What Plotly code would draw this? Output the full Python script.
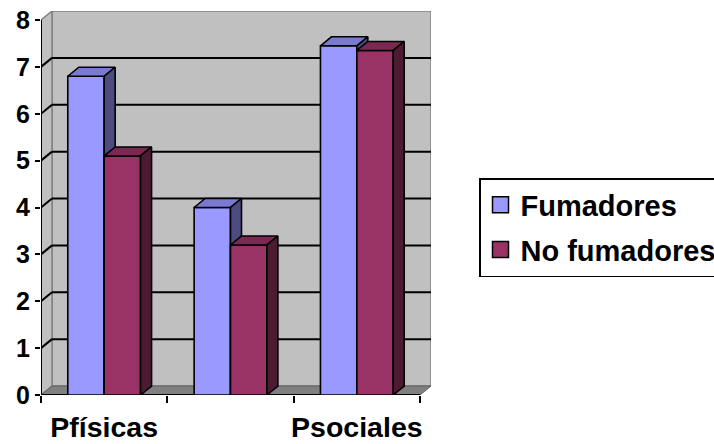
import plotly.graph_objects as go

# ---------------- data ----------------
categories = ["Pfísicas", "Psíquicas", "Psociales"]
tick_labels = ["Pfísicas", "", "Psociales"]
series_names = ["Fumadores", "No fumadores"]
fumadores = [6.8, 4.0, 7.45]
no_fumadores = [5.1, 3.2, 7.35]
y_ticks = [0, 1, 2, 3, 4, 5, 6, 7, 8]

# ---------------- styling / geometry ----------------
W, H = 714, 444
ML, MR, MT, MB = 41, 283, 11, 49
FONT = "Liberation Sans, Arial, Helvetica, sans-serif"

n = len(categories)
y_max = y_ticks[-1]
front_w_px = 379.0            # width of the front plane
front_h_px = 375.0            # height of the front plane (0..8)
plot_w = W - ML - MR
plot_h = H - MT - MB
px_x = front_w_px / n
px_y = front_h_px / y_max
DX = (plot_w - front_w_px) / px_x     # 3D depth in x data units
DY = (plot_h - front_h_px) / px_y     # 3D depth in y data units

x_lo = -0.5
x_hi = n - 0.5

bar_w = 0.288
offsets = [-bar_w, 0.0]
front_cols = ["#9999FF", "#993366"]
top_cols = ["#7A7AD0", "#7A2952"]
side_cols = ["#4C4C80", "#4D1A33"]
series_vals = [fumadores, no_fumadores]

fig = go.Figure()

z = 0
for s, vals in enumerate(series_vals):
    xs = list(range(n))
    fig.add_trace(go.Bar(
        x=xs, y=vals, width=bar_w, offset=offsets[s],
        marker=dict(color=front_cols[s], line=dict(color="black", width=1.6)),
        showlegend=False, hoverinfo="skip", zorder=z))
    z += 1
    tx, ty, sx, sy = [], [], [], []
    for i, v in enumerate(vals):
        x0 = i + offsets[s]
        x1 = x0 + bar_w
        tx += [x0, x1, x1 + DX, x0 + DX, x0, None]
        ty += [v, v, v + DY, v + DY, v, None]
        sx += [x1, x1 + DX, x1 + DX, x1, x1, None]
        sy += [0, DY, v + DY, v, 0, None]
    fig.add_trace(go.Scatter(
        x=tx, y=ty, mode="lines", fill="toself", fillcolor=top_cols[s],
        line=dict(color="black", width=1.6), showlegend=False,
        hoverinfo="skip", zorder=z))
    fig.add_trace(go.Scatter(
        x=sx, y=sy, mode="lines", fill="toself", fillcolor=side_cols[s],
        line=dict(color="black", width=1.6), showlegend=False,
        hoverinfo="skip", zorder=z))
    z += 1

# legend entries
for s, name in enumerate(series_names):
    fig.add_trace(go.Scatter(
        x=[None], y=[None], mode="markers", name=name, legendgroup=name,
        marker=dict(symbol="square", size=16, color=front_cols[s],
                    line=dict(color="black", width=1.5))))

# ---------------- walls, floor, gridlines ----------------
shapes = []
# back wall
shapes.append(dict(type="rect", xref="x", yref="y", layer="below",
                   x0=x_lo + DX, x1=x_hi + DX, y0=DY, y1=y_max + DY,
                   fillcolor="#C0C0C0", line=dict(color="#808080", width=1.5)))
# left wall
shapes.append(dict(type="path", xref="x", yref="y", layer="below",
                   path=f"M{x_lo},0 L{x_lo + DX},{DY} L{x_lo + DX},{y_max + DY} L{x_lo},{y_max} Z",
                   fillcolor="#C0C0C0", line=dict(color="#808080", width=1.5)))
# floor
shapes.append(dict(type="path", xref="x", yref="y", layer="below",
                   path=f"M{x_lo},0 L{x_hi},0 L{x_hi + DX},{DY} L{x_lo + DX},{DY} Z",
                   fillcolor="#808080", line=dict(color="#606060", width=1)))
# gridlines on back wall + left wall
for v in y_ticks[1:-1]:
    shapes.append(dict(type="line", xref="x", yref="y", layer="below",
                       x0=x_lo + DX, x1=x_hi + DX, y0=v + DY, y1=v + DY,
                       line=dict(color="black", width=2)))
    shapes.append(dict(type="line", xref="x", yref="y", layer="below",
                       x0=x_lo, x1=x_lo + DX, y0=v, y1=v + DY,
                       line=dict(color="black", width=2)))
# axis lines
shapes.append(dict(type="line", xref="x", yref="y", layer="below",
                   x0=x_lo, x1=x_lo, y0=0, y1=y_max, line=dict(color="black", width=2)))
shapes.append(dict(type="line", xref="x", yref="y", layer="below",
                   x0=x_lo, x1=x_hi, y0=0, y1=0, line=dict(color="black", width=2)))

boundaries = [i - 0.5 for i in range(n + 1)]

fig.update_layout(
    width=W, height=H,
    margin=dict(l=ML, r=MR, t=MT, b=MB, pad=0, autoexpand=False),
    paper_bgcolor="white", plot_bgcolor="rgba(0,0,0,0)",
    barmode="overlay",
    shapes=shapes,
    showlegend=True,
    legend=dict(
        xref="container", yref="container",
        x=479 / W, y=1 - 178 / H,
        xanchor="left", yanchor="top",
        bordercolor="black", borderwidth=1.5, bgcolor="white",
        font=dict(family=FONT, size=29, color="black", weight="bold"),
        traceorder="grouped", tracegroupgap=4,
    ),
    xaxis=dict(
        range=[x_lo, x_hi + DX], tickmode="array",
        tickvals=list(range(n)), ticktext=tick_labels,
        ticks="", showgrid=False, zeroline=False, showline=False,
        ticklabelstandoff=12, automargin=False,
        tickfont=dict(family=FONT, size=28.5, color="black", weight="bold"),
        minor=dict(tickmode="array", tickvals=boundaries, ticks="outside",
                   ticklen=7, tickwidth=2, tickcolor="black", showgrid=False),
        fixedrange=True,
    ),
    yaxis=dict(
        range=[0, y_max + DY], tickmode="array", tickvals=y_ticks,
        ticks="outside", ticklen=5, tickwidth=2, tickcolor="black",
        showgrid=False, zeroline=False, showline=False, automargin=False,
        tickfont=dict(family=FONT, size=25, color="black", weight="bold"),
        fixedrange=True,
    ),
)

fig.write_html("out.html")
